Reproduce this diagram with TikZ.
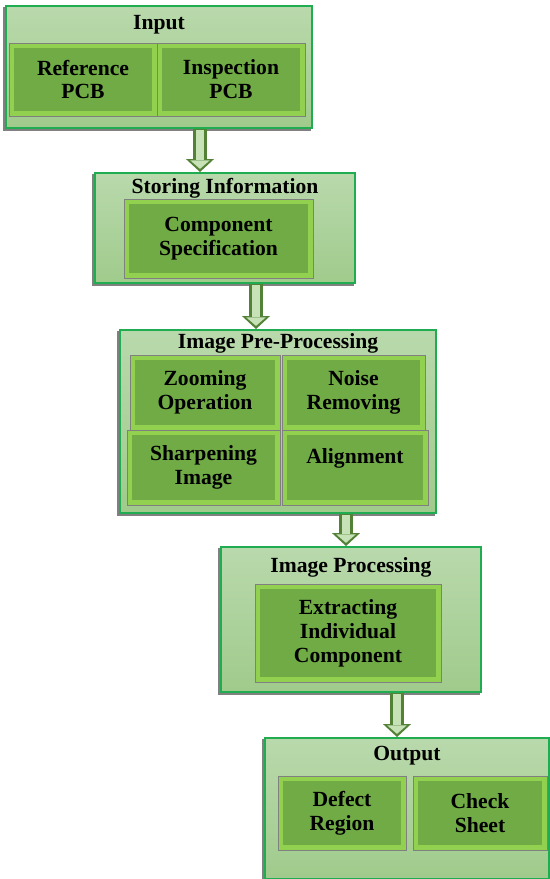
\documentclass[tikz,border=0pt]{standalone}
\usepackage{fontspec}
\setmainfont{Liberation Serif}
\usetikzlibrary{arrows.meta,fit,positioning}
\definecolor{boxtop}{RGB}{185,217,172}
\definecolor{boxbot}{RGB}{160,203,140}
\definecolor{boxline}{RGB}{32,172,80}
\definecolor{cellrim}{RGB}{146,208,80}
\definecolor{cellfill}{RGB}{112,171,70}
\definecolor{arrowfill}{RGB}{200,226,184}
\definecolor{arrowline}{RGB}{83,129,53}
\tikzset{stage/.style={draw=boxline, line width=1.1pt, top color=boxtop, bottom color=boxbot, inner sep=0pt,
    preaction={draw=gray, line width=1.1pt, transform canvas={xshift=-1pt, yshift=-1pt}}},
stagetitle/.style={font=\fontsize{12.3}{13.2}\selectfont\bfseries, inner sep=0pt},
cell/.style={draw=gray, line width=.5pt, fill=cellrim, inner sep=0pt, align=center,
    font=\fontsize{12.3}{13.6}\selectfont\bfseries,
    path picture={\fill[cellfill] ([xshift=2.6pt,yshift=-2.6pt]path picture bounding box.north west)
        rectangle ([xshift=-2.6pt,yshift=2.6pt]path picture bounding box.south east);}},
blockarrow/.style={line width=7.8pt, draw=arrowline, -{Triangle[length=7.4pt,width=16pt,line width=0pt]},
    postaction={draw=arrowfill, line width=5pt, shorten >=1.8pt, shorten <=0.6pt,
    -{Triangle[length=4.8pt,width=11pt,line width=0pt]}}}}
\begin{document}
\begin{tikzpicture}[x=0.02cm, y=-0.02cm]
        \useasboundingbox (0,0) rectangle (550,879);
        
        % stages
        \node[stage, fit={(6,6) (312,128)}] (in) {};
        \node[stage, fit={(95,173) (355,283)}] (store) {};
        \node[stage, fit={(120,330) (436,513)}] (pre) {};
        \node[stage, fit={(221,547) (481,692)}] (proc) {};
        \node[stage, fit={(265,738) (549,879)}] (out) {};
        
        % titles
        \node[stagetitle, below=0.19cm of in.north] (tin) {Input};
        \node[stagetitle, below=0.12cm of store.north] (tstore) {Storing Information};
        \node[stagetitle, below=0.08cm of pre.north] (tpre) {Image Pre-Processing};
        \node[stagetitle, below=0.23cm of proc.north] (tproc) {Image Processing};
        \node[stagetitle, below=0.18cm of out.north] (tout) {Output};
        
        % cells
        \node[cell, minimum width=2.96cm, minimum height=1.46cm] (ref) at (83,79.5) {Reference\\PCB};
        \node[cell, minimum width=2.96cm, minimum height=1.46cm] (insp) at (231,79.5) {Inspection\\PCB};
        \node[cell, minimum width=3.78cm, minimum height=1.58cm] (spec) at (218.5,238.5) {Component\\Specification};
        \node[cell, minimum width=3.0cm, minimum height=1.5cm] (zoom) at (205,392.5) {Zooming\\Operation};
        \node[cell, minimum width=2.86cm, minimum height=1.5cm] (noise) at (353.5,392.5) {Noise\\Removing};
        \node[cell, minimum width=3.06cm, minimum height=1.5cm] (sharp) at (203.5,467.5) {Sharpening\\Image};
        \node[cell, minimum width=2.92cm, minimum height=1.5cm] (align) at (355,467.5) {Alignment\\\phantom{I}};
        \node[cell, minimum width=3.72cm, minimum height=1.96cm] (extract) at (348,633) {Extracting\\Individual\\Component};
        \node[cell, minimum width=2.56cm, minimum height=1.48cm] (defect) at (342,813) {Defect\\Region};
        \node[cell, minimum width=2.68cm, minimum height=1.48cm] (check) at (480,813) {Check\\Sheet};
        
        % arrows
        \coordinate (a1) at (200,0);
        \coordinate (a2) at (256,0);
        \coordinate (a3) at (346,0);
        \coordinate (a4) at (397,0);
        \draw[blockarrow] (in.south -| a1) -- (store.north -| a1);
        \draw[blockarrow] (store.south -| a2) -- (pre.north -| a2);
        \draw[blockarrow] (pre.south -| a3) -- (proc.north -| a3);
        \draw[blockarrow] (proc.south -| a4) -- (out.north -| a4);
        
    \end{tikzpicture}
\end{document}
